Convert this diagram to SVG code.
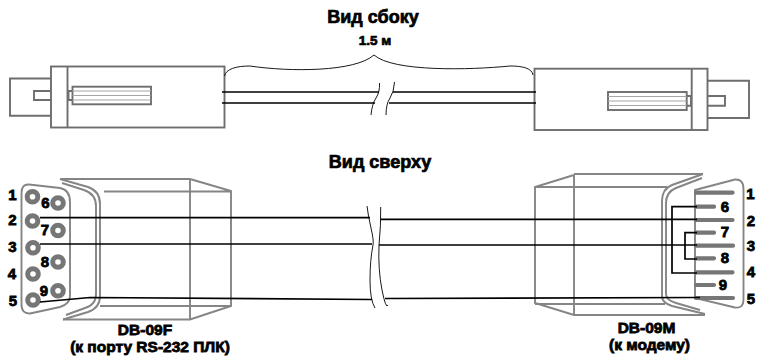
<svg xmlns="http://www.w3.org/2000/svg" width="757" height="356" viewBox="0 0 757 356">
<style>
text{font-family:"Liberation Sans",Arial,sans-serif;font-weight:bold;fill:#000;stroke:#000;stroke-width:.7;text-anchor:middle}
.t{font-size:18px}.s{font-size:13.5px}.l{font-size:15.5px;stroke-width:.8}.n{font-size:15px;stroke-width:.8}
.g{fill:none;stroke:#6e6e6e;stroke-width:1.9}
.h{fill:none;stroke:#858585;stroke-width:1.9}
.r{fill:none;stroke:#a6a6a6;stroke-width:1.1}
.p{fill:none;stroke:#767676;stroke-width:5}
.m{fill:none;stroke:#767676;stroke-width:4.2;stroke-linecap:round}
.w{fill:none;stroke:#000;stroke-width:1.7}
.b{fill:none;stroke:#000;stroke-width:.9}
</style>
<g id="title-side"><text class="t" x="373" y="23">Вид сбоку</text></g>
<g id="length"><text class="s" x="375" y="44.500">1.5 м</text></g>
<g id="title-top"><text class="t" x="380" y="168">Вид сверху</text></g>

<g id="side-left">
<rect class="g" x="51" y="66.500" width="173.500" height="61"/>
<path class="g" d="M67.500 66.500V127.500M51 78.500H10V115.700H51"/>
<path class="g" d="M51 91H34V100H51M72.500 91H68.500V100H72.500"/>
<rect class="g" x="72.500" y="86.700" width="78.500" height="17.600"/>
<path class="r" d="M72.500 91H151M72.500 95.500H151M72.500 100H151"/>
</g>
<g id="side-right">
<rect class="g" x="534.500" y="68.700" width="173" height="61.300"/>
<path class="g" d="M691.700 68.700V130M707.500 80.700H749V118H707.500"/>
<path class="g" d="M707.500 96H725V105.700H707.500M686.700 96H691V105.700H686.700"/>
<rect class="g" x="608" y="92" width="78.700" height="18"/>
<path class="r" d="M608 96.500H686.700M608 101H686.700M608 105.500H686.700"/>
</g>

<g id="top-left">
<path class="h" d="M60 179H190M190 179V319.500M190 179L231 191V306L190 319.500H63M104 191.500H231M100 306H231"/>
<path class="h" d="M60 179L88 187Q100 191 100 204V296Q100 308 88 312L63 319.500"/>
<path class="h" d="M62 183L84 190Q96 194 96 206V294Q96 305 85 308L66 315"/>
<path class="h" d="M29 184.500L60 188Q70 190 70 202V296Q70 304 60 307L30 313.500Q21.500 314 21.500 304V193Q21.500 184 29 184.500Z"/>
<g id="pins-f">
<circle class="p" cx="32.500" cy="196.700" r="5.300"/><circle class="p" cx="32.500" cy="221" r="5.300"/><circle class="p" cx="33" cy="247.700" r="5.300"/><circle class="p" cx="33" cy="274" r="5.300"/><circle class="p" cx="33" cy="300" r="5.300"/>
<circle class="p" cx="58" cy="203" r="5.300"/><circle class="p" cx="58" cy="230.500" r="5.300"/><circle class="p" cx="58" cy="262" r="5.300"/><circle class="p" cx="58" cy="290.700" r="5.300"/>
</g>
<text class="n" x="12.500" y="200">1</text><text class="n" x="12.500" y="225">2</text><text class="n" x="12.500" y="252">3</text><text class="n" x="12" y="279">4</text><text class="n" x="13" y="306">5</text>
<text class="n" x="45.500" y="208">6</text><text class="n" x="45" y="235">7</text><text class="n" x="45" y="267">8</text><text class="n" x="44" y="296">9</text>
<text class="l" x="145" y="335">DB-09F</text>
<text class="l" x="150" y="351.500">(к порту RS-232 ПЛК)</text>
</g>

<g id="top-right">
<path class="h" d="M703 174H574M574 174.500V315M574 175L535 187V303L574 315H705M535 187H667M535 304H665"/>
<path class="h" d="M703 174L672 185Q662 189 662 201V296Q662 303 672 306L705 314"/>
<path class="h" d="M702 178L676 188Q666 192 666 203V294Q666 300 676 303L700 310"/>
<path class="h" d="M695 190L735 179.500Q743.500 179 743.500 189V300Q743.500 308.500 735 307.500L695 298Z"/>
<g id="pins-m">
<path class="m" d="M696 192.700H732.500M696 206.700H714M696 220H732.500M696 232.700H714M696 245.700H733M696 258.300H714M696 272.300H732.500M696 285H714M696 298H733"/>
</g>
<text class="n" x="750.500" y="199">1</text><text class="n" x="725" y="212">6</text><text class="n" x="751" y="226">2</text><text class="n" x="725" y="237">7</text><text class="n" x="751" y="251">3</text><text class="n" x="725" y="263">8</text><text class="n" x="751" y="277">4</text><text class="n" x="723" y="290">9</text><text class="n" x="751" y="304">5</text>
<text class="l" x="646.500" y="333">DB-09M</text>
<text class="l" x="649.500" y="349.500">(к модему)</text>
</g>

<g id="connectors">
<path class="w" d="M222 92H379M393 92H536M222 103H375M389 103H536"/>
<path class="b" d="M224.500 76C226 69 236 66 250 66C290 72 355 72 374 55C393 72 470 70 510 66C522 66 532 68 533 75"/>
<path class="b" d="M379.500 83Q380 92 376 98T371 115M394.500 82Q394 92 390 98T386 115"/>
<path class="w" d="M40 217.700H370M40 244H372M40 302L90 297.500L372 299.500M381 219.300H697M379 245H697M385 298.500L700 297.500"/>
<path class="w" d="M697 206.700H672V273H697M697 232.700H685V259H697"/>
<path class="b" d="M367 206Q368 215 371 228T373 245Q370 260 370 280T375 308M380.700 207Q381 225 379 245Q378 270 382 290T388 305"/>
</g>
</svg>
